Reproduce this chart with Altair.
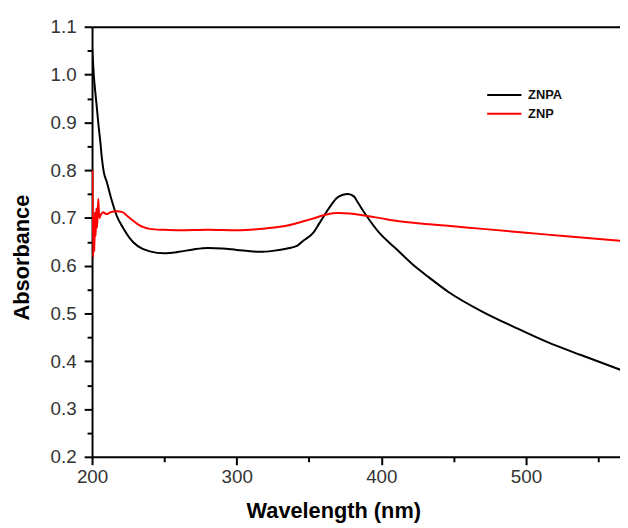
import altair as alt
import pandas as pd

# ---- data ----
series_names = ["ZNPA", "ZNP"]
series_colors = ["#000000", "#ff0000"]

znpa_nm = [200.0, 200.6, 201.2, 202.3, 203.4, 204.5, 205.7, 206.8, 208.0, 210.3, 213.7,
           217.0, 221.7, 228.5, 235.0, 240.0, 250.0, 260.0, 270.0, 280.0, 290.0, 300.0,
           316.0, 325.0, 335.0, 342.0, 346.0, 353.0, 357.0, 362.0, 366.0, 369.0, 373.0,
           377.0, 381.0, 384.0, 389.6, 398.5, 410.0, 423.8, 432.7, 446.4, 469.7, 492.3,
           514.9, 538.0, 565.5]
znpa_abs = [1.055, 1.030, 0.999, 0.962, 0.928, 0.893, 0.860, 0.825, 0.798, 0.774, 0.736,
            0.705, 0.678, 0.649, 0.635, 0.630, 0.626, 0.629, 0.634, 0.637, 0.636, 0.633,
            0.629, 0.631, 0.636, 0.642, 0.652, 0.669, 0.688, 0.712, 0.730, 0.741, 0.748,
            0.750, 0.745, 0.731, 0.705, 0.669, 0.636, 0.597, 0.576, 0.545, 0.504, 0.471,
            0.440, 0.413, 0.382]

znp_nm = [200.3, 200.8, 201.2, 201.6, 202.0, 202.5, 203.0, 203.5, 204.3, 205.0, 206.0,
          207.5, 210.0, 213.0, 217.0, 221.0, 224.0, 228.0, 232.0, 236.0, 240.0, 250.0,
          260.0, 280.0, 300.0, 320.0, 335.0, 345.0, 352.0, 362.0, 370.0, 378.0, 388.0,
          400.0, 410.0, 425.0, 444.0, 470.0, 500.0, 530.0, 566.0]
znp_abs = [0.800, 0.618, 0.700, 0.630, 0.712, 0.662, 0.720, 0.680, 0.740, 0.700, 0.706,
           0.712, 0.708, 0.712, 0.714, 0.712, 0.705, 0.695, 0.686, 0.680, 0.677, 0.675,
           0.674, 0.675, 0.674, 0.678, 0.684, 0.692, 0.698, 0.707, 0.710, 0.709, 0.705,
           0.699, 0.694, 0.689, 0.684, 0.677, 0.669, 0.661, 0.652]

# major and minor tick positions
x_ticks = [200, 250, 300, 350, 400, 450, 500, 550]
y_ticks = [0.2, 0.25, 0.3, 0.35, 0.4, 0.45, 0.5, 0.55, 0.6, 0.65, 0.7, 0.75,
           0.8, 0.85, 0.9, 0.95, 1.0, 1.05, 1.1]

df = pd.concat([
    pd.DataFrame({"series": series_names[0], "wavelength": znpa_nm, "absorbance": znpa_abs}),
    pd.DataFrame({"series": series_names[1], "wavelength": znp_nm, "absorbance": znp_abs}),
], ignore_index=True)

FONT = "Liberation Sans"
xs = alt.Scale(domain=[200, 565], nice=False, zero=False)
ys = alt.Scale(domain=[0.2, 1.1], nice=False, zero=False)

X_MAJOR = "datum.value % 100 == 0"
Y_MAJOR = "abs(datum.value * 10 - round(datum.value * 10)) < 0.001"

base = alt.Chart(df)

lines = base.mark_line(strokeWidth=2, interpolate="monotone", clip=True).encode(
    x=alt.X("wavelength:Q", scale=xs,
            axis=alt.Axis(orient="bottom", values=x_ticks, ticks=True,
                          tickColor="#000", tickWidth=2,
                          tickSize={"condition": {"test": X_MAJOR, "value": 8}, "value": 5},
                          labelExpr=f"{X_MAJOR} ? format(datum.value, 'd') : ''",
                          labelFlush=False, labelOverlap=False,
                          labelPadding=3, title="Wavelength (nm)",
                          titleX=244, titleY=61, titleAlign="center",
                          titleBaseline="alphabetic")),
    y=alt.Y("absorbance:Q", scale=ys,
            axis=alt.Axis(orient="left", values=y_ticks, ticks=True,
                          tickColor="#000", tickWidth=2,
                          tickSize={"condition": {"test": Y_MAJOR, "value": 8}, "value": 5},
                          labelExpr=f"{Y_MAJOR} ? format(datum.value, '.1f') : ''",
                          labelFlush=False, labelOverlap=False,
                          labelPadding=8, title="Absorbance",
                          titleX=-71, titleY=233, titleAngle=270,
                          titleAlign="center", titleBaseline="middle")),
    color=alt.Color("series:N",
                    scale=alt.Scale(domain=series_names, range=series_colors),
                    legend=alt.Legend(orient="none", legendX=407, legendY=59,
                                      title=None, symbolType="M-2,0H2",
                                      symbolSize=300, symbolStrokeWidth=2,
                                      labelFont=FONT, labelFontSize=13,
                                      labelFontWeight="bold", labelColor="#111",
                                      labelOffset=14, rowPadding=2, padding=0)),
)

top = base.mark_line(strokeOpacity=0).encode(
    x=alt.X("wavelength:Q", scale=xs,
            axis=alt.Axis(orient="top", labels=False, ticks=False, domain=True, title=None)),
    y=alt.Y("absorbance:Q", scale=ys, axis=None),
    detail="series:N",
)

chart = (
    alt.layer(lines, top)
    .resolve_axis(x="independent", y="independent")
    .properties(width=534, height=435,
                autosize=alt.AutoSizeParams(type="none"),
                padding={"left": 85, "top": 16, "right": 0, "bottom": 66})
    .configure_view(strokeWidth=0)
    .configure_axis(grid=False, domainColor="#000", domainWidth=2,
                    labelFont=FONT, labelFontSize=19, labelColor="#333",
                    titleFont=FONT, titleFontSize=22, titleFontWeight="bold",
                    titleColor="#000")
)

chart.save("out.html", embed_options={"renderer": "svg", "actions": False})
